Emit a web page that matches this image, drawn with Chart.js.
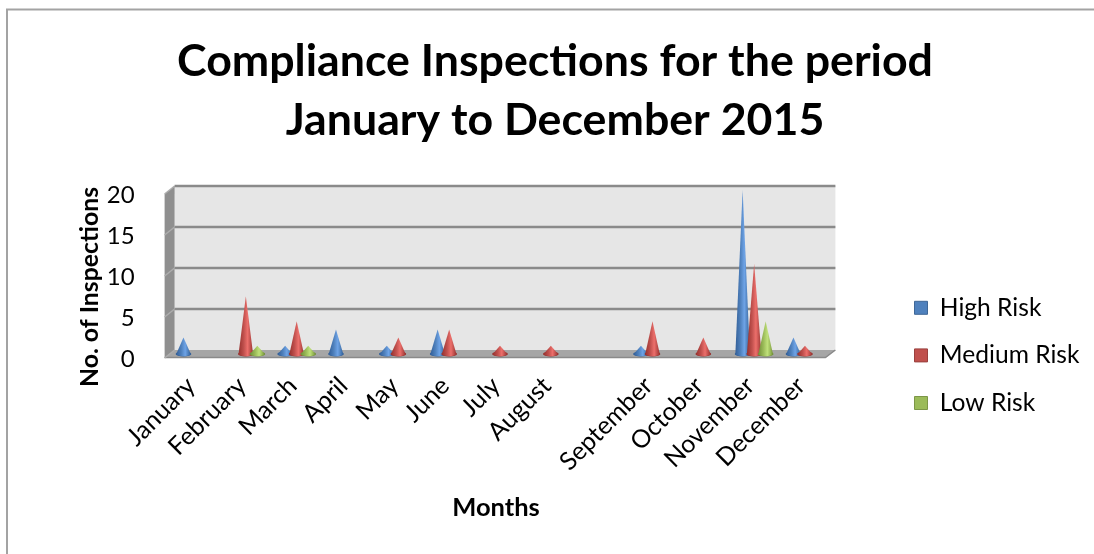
<!DOCTYPE html>
<html><head><meta charset="utf-8">
<style>html,body{margin:0;padding:0;background:#fff}canvas{display:block}</style>
<script src="https://cdn.jsdelivr.net/npm/chart.js@4"></script></head>
<body><canvas id="c" width="1094" height="554"></canvas>
<script>
const titleLines = ["Compliance Inspections for the period", "January to December 2015"];
const categories = ["January","February","March","April","May","June","July","August","","September","October","November","December"];
const highRisk   = [2,0,1,3,1,3,0,0,null,1,0,20,2];
const mediumRisk = [0,7,4,0,2,3,1,1,null,4,2,11,1];
const lowRisk    = [0,1,1,0,0,0,0,0,null,0,0,4,0];
const yTicks = [0,5,10,15,20];
const FONT = "Lato";
const DX = 5, DY = 4;
const tones = [
  {base:"#4f81bd",dark:"#335f98",light:"#6ea3e6",border:"#3f6797"},
  {base:"#c0504d",dark:"#97322f",light:"#ec6f6b",border:"#9a403e"},
  {base:"#9bbb59",dark:"#73913a",light:"#bfe07a",border:"#7c9647"}
];
function shiftTitle(scale,dx,dy){
  if(scale._shifted) return;
  scale._shifted = true;
  const orig = scale.drawTitle;
  scale.drawTitle = function(){ const c=this.ctx; c.save(); c.translate(dx,dy); orig.call(this); c.restore(); };
}
const scene = {
  id:"scene",
  afterInit(chart){
    const l = chart.legend, f = l.fit;
    l.fit = function(){ f.call(this); this.width = 263.6; };
  },
  afterLayout(chart){
    const l = chart.legend; l.left = 891.5; l.top = 272.5; l.bottom = 272.5 + 170;
    shiftTitle(chart.scales.y,0,15);
    shiftTitle(chart.scales.x,-4,0);
  },
  beforeDraw(chart){
    const ctx = chart.ctx, a = chart.chartArea, y = chart.scales.y;
    ctx.save();
    ctx.strokeStyle="#a3a3a3"; ctx.lineWidth=2;
    ctx.beginPath(); ctx.moveTo(7,554); ctx.lineTo(7,9.5); ctx.lineTo(1094,9.5); ctx.stroke();
    const L=a.left,R=a.right,T=a.top,B=a.bottom;
    ctx.fillStyle="#e6e6e6"; ctx.fillRect(L+DX,T-DY,R-L,B-T);
    ctx.fillStyle="#8f8f8f"; ctx.beginPath();
    ctx.moveTo(L+DX,T-DY); ctx.lineTo(L-DX,T+DY); ctx.lineTo(L-DX,B+DY); ctx.lineTo(L+DX,B-DY); ctx.closePath(); ctx.fill();
    ctx.fillStyle="#a6a6a6"; ctx.beginPath();
    ctx.moveTo(L-DX,B+DY); ctx.lineTo(L+DX,B-DY); ctx.lineTo(R+DX,B-DY); ctx.lineTo(R-DX,B+DY); ctx.closePath(); ctx.fill();
    ctx.strokeStyle="#8a8a8a"; ctx.lineWidth=1.5;
    ctx.beginPath(); ctx.moveTo(L-DX,B+DY-.5); ctx.lineTo(R-DX,B+DY-.5); ctx.lineTo(R+DX,B-DY); ctx.stroke();
    yTicks.forEach(v=>{
      const p=y.getPixelForValue(v);
      ctx.strokeStyle="#adadad"; ctx.lineWidth=1.5;
      ctx.beginPath(); ctx.moveTo(L-DX,p+DY); ctx.lineTo(L+DX,p-DY); ctx.stroke();
      if(v>0){
        ctx.strokeStyle="#8a8a8a"; ctx.lineWidth=2.5;
        ctx.beginPath(); ctx.moveTo(L+DX,p-DY); ctx.lineTo(R+DX,p-DY); ctx.stroke();
      }
    });
    ctx.restore();
  },
  beforeDatasetDraw(){ return false; },
  afterDatasetsDraw(chart){
    const ctx = chart.ctx;
    chart.data.datasets.forEach((ds,i)=>{
      const t = tones[i];
      chart.getDatasetMeta(i).data.forEach((el,j)=>{
        if(!ds.data[j]) return;
        const hw = el.width/2 + 1.5, ew = hw, eh = 2.2, x = el.x, top = el.y, b = el.base;
        const g = ctx.createLinearGradient(x-hw,0,x+hw,0);
        g.addColorStop(0,t.dark); g.addColorStop(.35,t.base); g.addColorStop(.62,t.light); g.addColorStop(.82,t.base); g.addColorStop(1,t.dark);
        ctx.save();
        ctx.fillStyle=t.dark; ctx.beginPath(); ctx.ellipse(x,b,ew+.6,eh+.3,0,0,Math.PI*2); ctx.fill();
        ctx.fillStyle=g; ctx.beginPath();
        ctx.moveTo(x,top); ctx.lineTo(x+hw,b); ctx.ellipse(x,b,ew,eh,0,0,Math.PI); ctx.closePath(); ctx.fill();
        ctx.restore();
      });
    });
  }
};
new Chart(document.getElementById("c"),{
  type:"bar",
  data:{labels:categories,datasets:[
    {label:"High Risk",data:highRisk,backgroundColor:tones[0].base,borderColor:tones[0].border,borderWidth:1},
    {label:"Medium Risk",data:mediumRisk,backgroundColor:tones[1].base,borderColor:tones[1].border,borderWidth:1},
    {label:"Low Risk",data:lowRisk,backgroundColor:tones[2].base,borderColor:tones[2].border,borderWidth:1}
  ]},
  options:{
    responsive:false,animation:false,
    layout:{padding:{left:16,right:0,top:0,bottom:0}},
    datasets:{bar:{categoryPercentage:.68,barPercentage:1}},
    plugins:{
      tooltip:{enabled:false},
      title:{display:true,text:titleLines,color:"#000",font:{family:FONT,size:44.7,weight:"bold",lineHeight:1.32},padding:{top:32,bottom:40}},
      legend:{position:"right",align:"start",labels:{color:"#000",boxWidth:13,boxHeight:13,padding:23,font:{family:FONT,size:24.6}}}
    },
    scales:{
      x:{
        grid:{display:false},border:{display:false},
        ticks:{color:"#000",font:{family:FONT,size:25},minRotation:45,maxRotation:45,autoSkip:false,padding:9,labelOffset:-4},
        title:{display:true,text:"Months",color:"#000",font:{family:FONT,size:25.5,weight:"bold"},padding:{top:0,bottom:31}},
        afterFit(s){s.height=200;}
      },
      y:{
        min:0,max:20,
        grid:{display:false},border:{display:false},
        afterBuildTicks(s){s.ticks=yTicks.map(v=>({value:v}));},
        ticks:{color:"#000",font:{family:FONT,size:24},padding:27,labelOffset:5},
        title:{display:true,text:"No. of Inspections",color:"#000",font:{family:FONT,size:24.8,weight:"bold"},padding:{top:59,bottom:0}},
        afterFit(s){s.width=153.6;}
      }
    }
  },
  plugins:[scene]
});
</script></body></html>
